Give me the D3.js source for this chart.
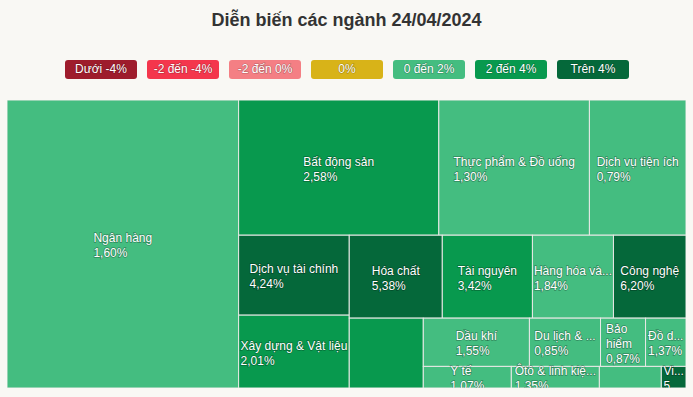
<!DOCTYPE html>
<html>
<head>
<meta charset="utf-8">
<script src="https://cdn.jsdelivr.net/npm/d3@7"></script>
<style>
  body { margin: 0; background: #f9f8f4; font-family: Arial, "Liberation Sans", sans-serif; }
</style>
</head>
<body>
<div id="chart"></div>
<script>
var W = 693, H = 397;

// sectors, sorted by weight (market size)
var sectors = ["Ngân hàng", "Bất động sản", "Thực phẩm & Đồ uống", "Dịch vụ tiện ích",
  "Dịch vụ tài chính", "Xây dựng & Vật liệu", "Hóa chất", "Tài nguyên",
  "Hàng hóa và dịch vụ công nghiệp", "Công nghệ", null, "Dầu khí",
  "Du lịch & Giải trí", "Bảo hiểm", "Đồ dùng cá nhân và gia dụng", "Y tế",
  "Ôtô & linh kiện phụ tùng", null, "Viễn thông"];
var weights = [66300, 26900, 20240, 12980, 8790, 8010, 7670, 7430, 6680, 5980,
  5140, 5090, 3410, 2160, 1940, 1890, 1890, 1330, 530];
var changes = [1.60, 2.58, 1.30, 0.79, 4.24, 2.01, 5.38, 3.42, 1.84, 6.20,
  2.50, 1.55, 0.85, 0.87, 1.37, 1.07, 1.35, 1.20, 5.10];

var legendLabels = ["Dưới -4%", "-2 đến -4%", "-2 đến 0%", "0%", "0 đến 2%", "2 đến 4%", "Trên 4%"];
var legendColors = ["#9e1c2c", "#f4364c", "#f47f84", "#d8b318", "#44bd80", "#08994e", "#05683a"];

// split order of the squarified layout: x = side by side, y = stacked
var layoutSpec = ["x", 0, ["y", ["x", 1, 2, 3],
  ["x", ["y", 4, 5], ["y", ["x", 6, 7, 8, 9],
    ["x", 10, ["y", ["x", 11, 12, 13, 14], ["x", 15, 16, 17, 18]]]]]]];

function colorOf(c) {
  if (c < -4) return legendColors[0];
  if (c < -2) return legendColors[1];
  if (c < 0) return legendColors[2];
  if (c === 0) return legendColors[3];
  if (c <= 2) return legendColors[4];
  if (c <= 4) return legendColors[5];
  return legendColors[6];
}

function build(spec) {
  if (typeof spec === "number")
    return { name: sectors[spec], value: weights[spec], change: changes[spec] };
  return { dir: spec[0], children: spec.slice(1).map(build) };
}

var svg = d3.select("#chart").append("svg")
  .attr("width", W)
  .attr("height", H);

svg.append("text")
  .attr("x", W / 2)
  .attr("y", 21)
  .attr("text-anchor", "middle")
  .attr("dominant-baseline", "middle")
  .attr("font-size", 18)
  .attr("font-weight", "bold")
  .attr("fill", "#333")
  .text("Diễn biến các ngành 24/04/2024");

// legend
var legend = svg.append("g")
  .selectAll("g")
  .data(legendLabels)
  .enter()
  .append("g")
  .attr("transform", function(d, i) { return "translate(" + (65 + i * 82) + ",60)"; });

legend.append("rect")
  .attr("width", 72)
  .attr("height", 19)
  .attr("rx", 3)
  .attr("fill", function(d, i) { return legendColors[i]; });

legend.append("text")
  .attr("x", 36)
  .attr("y", 10)
  .attr("text-anchor", "middle")
  .attr("dominant-baseline", "middle")
  .attr("font-size", 12)
  .attr("fill", "#fff")
  .attr("stroke", "rgba(0,0,0,0.25)")
  .attr("stroke-width", 1.2)
  .attr("paint-order", "stroke")
  .text(function(d) { return d; });

// treemap
var tx = 7, ty = 100, tw = 679, th = 288;

var root = d3.hierarchy(build(layoutSpec))
  .sum(function(d) { return d.value || 0; });

d3.treemap()
  .size([tw, th])
  .tile(function(node, x0, y0, x1, y1) {
    (node.data.dir === "x" ? d3.treemapDice : d3.treemapSlice)(node, x0, y0, x1, y1);
  })(root);

svg.append("clipPath").attr("id", "clip")
  .append("rect").attr("width", tw).attr("height", th);

var map = svg.append("g")
  .attr("transform", "translate(" + tx + "," + ty + ")")
  .attr("clip-path", "url(#clip)");

var leaves = root.leaves();

map.selectAll("rect")
  .data(leaves)
  .enter()
  .append("rect")
  .attr("x", function(d) { return d.x0; })
  .attr("y", function(d) { return d.y0; })
  .attr("width", function(d) { return d.x1 - d.x0; })
  .attr("height", function(d) { return d.y1 - d.y0; })
  .attr("fill", function(d) { return colorOf(d.data.change); })
  .attr("stroke", "#e9e9e6")
  .attr("stroke-width", 1);

var ctx = document.createElement("canvas").getContext("2d");
ctx.font = "12px Arial, 'Liberation Sans', sans-serif";
function measure(s) { return ctx.measureText(s).width; }

function truncate(s, avail) {
  if (measure(s) <= avail) return s;
  for (var k = s.length - 1; k > 0; k--) {
    var t = s.slice(0, k) + "...";
    if (measure(t) <= avail) return t;
  }
  return "...";
}

function fitName(name, avail) {
  if (measure(name) <= avail) return [name];
  var words = name.split(" ");
  if (words.length === 2 && measure(words[0]) <= avail && measure(words[1]) <= avail) return words;
  return [truncate(name, avail)];
}

function fmt(v) { return d3.format(".2f")(v).replace(".", ",") + "%"; }

var labels = map.selectAll("g.label")
  .data(leaves.filter(function(d) { return d.data.name; }))
  .enter()
  .append("g")
  .attr("class", "label");

labels.each(function(d) {
  var avail = d.x1 - d.x0 - 0.5;
  var lines = fitName(d.data.name, avail);
  lines.push(truncate(fmt(d.data.change), avail));
  var bw = d3.max(lines, measure);
  var x = Math.max(d.x0 + 0.5, (d.x0 + d.x1) / 2 - bw / 2);
  var cy = (d.y0 + d.y1) / 2 + 2.5;
  var lh = 15;
  d3.select(this).selectAll("text")
    .data(lines)
    .enter()
    .append("text")
    .attr("x", x)
    .attr("y", function(s, i) { return cy + (i - (lines.length - 1) / 2) * lh; })
    .attr("dominant-baseline", "middle")
    .attr("font-size", 12)
    .attr("fill", "#fff")
    .attr("stroke", "rgba(0,0,0,0.3)")
    .attr("stroke-width", 1.4)
    .attr("paint-order", "stroke")
    .text(function(s) { return s; });
});
</script>
</body>
</html>
